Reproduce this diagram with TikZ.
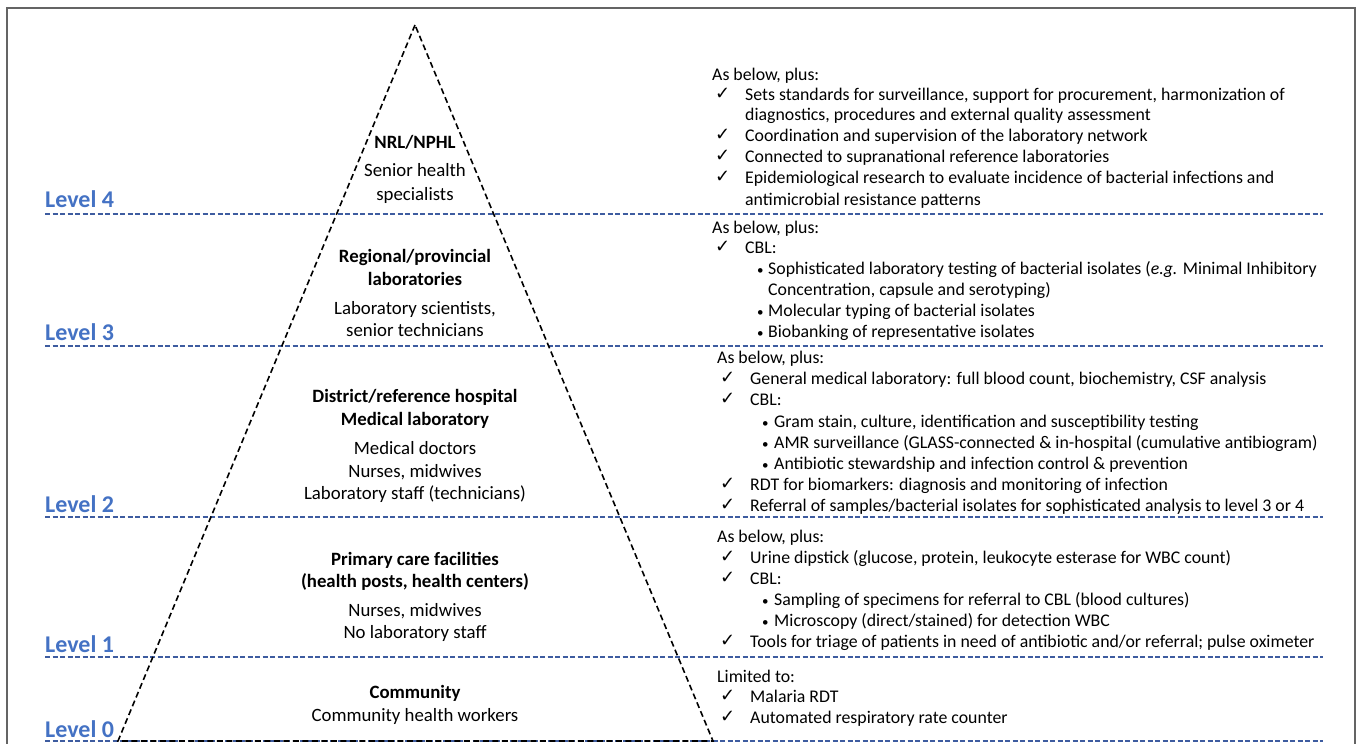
\documentclass[tikz,border=0pt]{standalone}
\usepackage{fontspec}
\setmainfont{Carlito}
\newfontfamily\dejavu{DejaVu Sans}
\definecolor{lvblue}{RGB}{68,114,196}
\definecolor{lnblue}{RGB}{62,92,160}
\definecolor{framegray}{RGB}{100,100,100}
\begin{document}
\begin{tikzpicture}[x=1pt,y=-1pt,
  rt/.style={anchor=mid west, inner sep=0pt, yshift=-3pt, font=\fontsize{17.8}{20}\selectfont},
  ck/.style={anchor=mid west, inner sep=0pt, yshift=-2pt, font=\dejavu\fontsize{18}{20}\selectfont},
  bu/.style={anchor=mid west, inner sep=0pt, yshift=-3pt, font=\fontsize{13}{15}\selectfont},
  ct/.style={anchor=mid, inner sep=0pt, yshift=-3pt, font=\fontsize{18.8}{21}\selectfont},
  ctb/.style={anchor=mid, inner sep=0pt, yshift=-3pt, font=\bfseries\fontsize{18.8}{21}\selectfont},
  lvl/.style={anchor=base west, inner sep=0pt, text=lvblue, font=\bfseries\fontsize{24}{28}\selectfont},
  lvline/.style={draw=lnblue, line width=1.3pt, dash pattern=on 5pt off 2.5pt},
  tri/.style={draw=black, line width=1.6pt, dash pattern=on 6pt off 3.5pt}]
\useasboundingbox (0,0) rectangle (1358,744);
\fill[white] (0,0) rectangle (1358,744);
% frame
\draw[framegray, line width=1.5pt] (7,746) -- (7,8) -- (1355,8) -- (1355,746);

% level lines
\coordinate (l4a) at (45,214); \coordinate (l4b) at (1323,214);
\coordinate (l3a) at (45,346); \coordinate (l3b) at (1323,346);
\coordinate (l2a) at (45,517); \coordinate (l2b) at (1323,517);
\coordinate (l1a) at (45,657); \coordinate (l1b) at (1323,657);
\coordinate (l0a) at (45,741); \coordinate (l0b) at (1323,741);
\draw[lvline] (l4a) -- (l4b);
\draw[lvline] (l3a) -- (l3b);
\draw[lvline] (l2a) -- (l2b);
\draw[lvline] (l1a) -- (l1b);
\draw[lvline] (l0a) -- (l0b);

% triangle
\coordinate (apex) at (415,25);
\coordinate (bl) at (118,741);
\coordinate (br) at (713,741);
\draw[tri] (apex) -- (bl) -- (br) -- cycle;

% level labels
\node[lvl] (L4) at (45,207) {Level 4};
\node[lvl] (L3) at (45,340) {Level 3};
\node[lvl] (L2) at (45,512) {Level 2};
\node[lvl] (L1) at (45,652) {Level 1};
\node[lvl] (L0) at (45,737) {Level 0};

% triangle texts
\node[ctb] (t4a) at (415,143) {NRL/NPHL};
\node[ct] (t4b) at (415,171) {Senior health};
\node[ct] (t4c) at (415,195) {specialists};

\node[ctb] (t3a) at (415,257) {Regional/provincial};
\node[ctb] (t3b) at (415,280) {laboratories};
\node[ct] (t3c) at (415,309) {Laboratory scientists,};
\node[ct] (t3d) at (415,331) {senior technicians};

\node[ctb] (t2a) at (415,397) {District/reference hospital};
\node[ctb] (t2b) at (415,420) {Medical laboratory};
\node[ct] (t2c) at (415,449) {Medical doctors};
\node[ct] (t2d) at (415,472) {Nurses, midwives};
\node[ct] (t2e) at (415,494) {Laboratory staff (technicians)};

\node[ctb] (t1a) at (415,560) {Primary care facilities};
\node[ctb] (t1b) at (415,582) {(health posts, health centers)};
\node[ct] (t1c) at (415,611) {Nurses, midwives};
\node[ct] (t1d) at (415,633) {No laboratory staff};

\node[ctb] (t0a) at (415,693) {Community};
\node[ct] (t0b) at (415,716) {Community health workers};

% right texts level 4
\node[rt] (r4h) at (712,75) {As below, plus:};
\node[ck] (r4c1) at (715,95) {✓};
\node[rt] (r4t1) at (745,95) {Sets standards for surveillance, support for procurement, harmonization of};
\node[rt] (r4t1b) at (745,115) {diagnostics, procedures and external quality assessment};
\node[ck] (r4c2) at (715,136) {✓};
\node[rt] (r4t2) at (745,136) {Coordination and supervision of the laboratory network};
\node[ck] (r4c3) at (715,157) {✓};
\node[rt] (r4t3) at (745,157) {Connected to supranational reference laboratories};
\node[ck] (r4c4) at (715,178) {✓};
\node[rt] (r4t4) at (745,178) {Epidemiological research to evaluate incidence of bacterial infections and};
\node[rt] (r4t4b) at (745,200) {antimicrobial resistance patterns};

% level 3
\node[rt] (r3h) at (712,228) {As below, plus:};
\node[ck] (r3c1) at (715,248) {✓};
\node[rt] (r3t1) at (745,248) {CBL:};
\node[bu] (r3b1) at (757,269) {•};
\node[rt] (r3s1) at (768,269) {Sophisticated laboratory testing of bacterial isolates (\textit{e.g.} Minimal Inhibitory};
\node[rt] (r3s1b) at (768,290) {Concentration, capsule and serotyping)};
\node[bu] (r3b2) at (757,311) {•};
\node[rt] (r3s2) at (768,311) {Molecular typing of bacterial isolates};
\node[bu] (r3b3) at (757,332) {•};
\node[rt] (r3s3) at (768,332) {Biobanking of representative isolates};

% level 2
\node[rt] (r2h) at (717,358) {As below, plus:};
\node[ck] (r2c1) at (720,379) {✓};
\node[rt] (r2t1) at (750,379) {General medical laboratory: full blood count, biochemistry, CSF analysis};
\node[ck] (r2c2) at (720,400) {✓};
\node[rt] (r2t2) at (750,400) {CBL:};
\node[bu] (r2b1) at (762,422) {•};
\node[rt] (r2s1) at (774,422) {Gram stain, culture, identification and susceptibility testing};
\node[bu] (r2b2) at (762,443) {•};
\node[rt] (r2s2) at (774,443) {AMR surveillance (GLASS-connected \& in-hospital (cumulative antibiogram)};
\node[bu] (r2b3) at (762,464) {•};
\node[rt] (r2s3) at (774,464) {Antibiotic stewardship and infection control \& prevention};
\node[ck] (r2c3) at (720,485) {✓};
\node[rt] (r2t3) at (750,485) {RDT for biomarkers: diagnosis and monitoring of infection};
\node[ck] (r2c4) at (720,506) {✓};
\node[rt] (r2t4) at (750,506) {Referral of samples/bacterial isolates for sophisticated analysis to level 3 or 4};

% level 1
\node[rt] (r1h) at (717,537) {As below, plus:};
\node[ck] (r1c1) at (720,558) {✓};
\node[rt] (r1t1) at (750,558) {Urine dipstick (glucose, protein, leukocyte esterase for WBC count)};
\node[ck] (r1c2) at (720,579) {✓};
\node[rt] (r1t2) at (750,579) {CBL:};
\node[bu] (r1b1) at (762,600) {•};
\node[rt] (r1s1) at (774,600) {Sampling of specimens for referral to CBL (blood cultures)};
\node[bu] (r1b2) at (762,621) {•};
\node[rt] (r1s2) at (774,621) {Microscopy (direct/stained) for detection WBC};
\node[ck] (r1c3) at (720,642) {✓};
\node[rt] (r1t3) at (750,642) {Tools for triage of patients in need of antibiotic and/or referral; pulse oximeter};

% level 0
\node[rt] (r0h) at (717,677) {Limited to:};
\node[ck] (r0c1) at (720,697) {✓};
\node[rt] (r0t1) at (750,697) {Malaria RDT};
\node[ck] (r0c2) at (720,718) {✓};
\node[rt] (r0t2) at (750,718) {Automated respiratory rate counter};
\end{tikzpicture}
\end{document}
